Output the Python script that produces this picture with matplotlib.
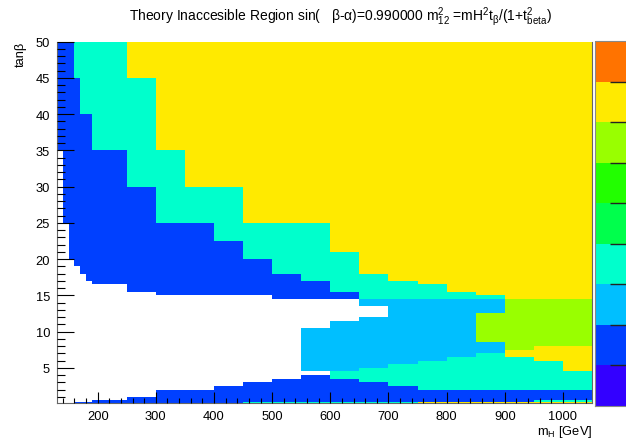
import numpy as np
import matplotlib
matplotlib.use('Agg')
import matplotlib.pyplot as plt
from matplotlib.colors import ListedColormap, BoundaryNorm

plt.rcParams['font.family'] = ['Liberation Sans', 'DejaVu Sans']
plt.rcParams['mathtext.fontset'] = 'custom'
plt.rcParams['mathtext.rm'] = 'Liberation Sans'
plt.rcParams['mathtext.it'] = 'Liberation Sans:italic'
plt.rcParams['mathtext.default'] = 'regular'

# palette levels (bottom -> top of the colour bar)
palette = ['#3300ff', '#0040ff', '#00bfff', '#00ffcc', '#00ff4c',
           '#22ff00', '#99ff00', '#ffea00', '#ff7300']
B, LB, C, YG, Y = 2, 3, 4, 7, 8

# mH bin edges
mh_edges = [130, 140, 150, 160, 170, 180, 190, 250, 300, 350, 400, 450, 500,
            550, 600, 650, 700, 750, 800, 850, 900, 950, 1000, 1050]

# per mH column: (tanb_low, tanb_high, level); anything not listed is empty
column_bands = [
    [(35, 50, B)],
    [(25, 50, B)],
    [(20, 50, B)],
    [(0.1, 0.3, B), (19, 45, B), (45, 50, C)],
    [(0.1, 0.3, B), (18, 40, B), (40, 50, C)],
    [(0.1, 0.3, B), (17, 40, B), (40, 50, C)],
    [(0.1, 0.5, B), (16.5, 35, B), (35, 50, C)],
    [(0.1, 1.0, B), (15.5, 30, B), (30, 45, C), (45, 50, Y)],
    [(0.1, 2.0, B), (15, 25, B), (25, 35, C), (35, 50, Y)],
    [(0.1, 2.0, B), (15, 25, B), (25, 30, C), (30, 50, Y)],
    [(0.1, 2.5, B), (15, 22.5, B), (22.5, 30, C), (30, 50, Y)],
    [(0.1, 0.3, C), (0.3, 3.0, B), (15, 20, B), (20, 25, C), (25, 50, Y)],
    [(0.1, 0.3, C), (0.3, 3.5, B), (14.5, 18, B), (18, 25, C), (25, 50, Y)],
    [(0.1, 0.3, C), (0.3, 4.0, B), (4.5, 10.5, LB), (14.5, 17, B), (17, 25, C), (25, 50, Y)],
    [(0.1, 0.3, C), (0.3, 3.5, B), (3.5, 4.5, C), (4.5, 11.5, LB), (14.5, 15.5, B),
     (15.5, 21, C), (21, 50, Y)],
    [(0.1, 0.3, C), (0.3, 3.0, B), (3.0, 5.0, C), (5.0, 12.0, LB), (13.5, 14.5, LB),
     (14.5, 18, C), (18, 50, Y)],
    [(0.1, 0.3, C), (0.3, 2.5, B), (2.5, 5.5, C), (5.5, 14.5, LB), (14.5, 17, C), (17, 50, Y)],
    [(0.1, 0.3, Y), (0.3, 2.0, B), (2.0, 6.0, C), (6.0, 14.5, LB), (14.5, 16.5, C), (16.5, 50, Y)],
    [(0.1, 0.3, Y), (0.3, 2.0, B), (2.0, 6.5, C), (6.5, 14.5, LB), (14.5, 15.5, C), (15.5, 50, Y)],
    [(0.1, 0.3, Y), (0.3, 2.0, B), (2.0, 7.0, C), (7.0, 8.5, LB), (8.5, 12.5, YG),
     (12.5, 14.5, LB), (14.5, 15, C), (15, 50, Y)],
    [(0.1, 0.3, Y), (0.3, 2.0, B), (2.0, 6.5, C), (6.5, 7.5, Y), (7.5, 14.5, YG), (14.5, 50, Y)],
    [(0.1, 0.3, Y), (0.3, 0.5, C), (0.5, 2.0, B), (2.0, 6.0, C), (6.0, 8.0, Y),
     (8.0, 14.5, YG), (14.5, 50, Y)],
    [(0.1, 0.3, Y), (0.3, 0.5, C), (0.5, 2.0, B), (2.0, 4.5, C), (4.5, 8.0, Y),
     (8.0, 14.5, YG), (14.5, 50, Y)],
]

title = ('Theory Inaccesible Region sin(   \u03b2-\u03b1)=0.990000 m$_{12}^{2}$'
         ' =mH$^{2}$t$_{\u03b2}$/(1+t$_{beta}^{2}$)')

# build the 2D histogram
tb_edges = sorted({0.1, 50} | {v for col in column_bands for s in col for v in s[:2]})
tb_edges = np.array(tb_edges)
tb_mid = 0.5 * (tb_edges[:-1] + tb_edges[1:])
z = np.zeros((len(tb_mid), len(mh_edges) - 1))
for i, col in enumerate(column_bands):
    for lo, hi, lev in col:
        z[(tb_mid > lo) & (tb_mid < hi), i] = lev
z = np.ma.masked_equal(z, 0)

W, H = 626, 439
fig = plt.figure(figsize=(W / 100, H / 100), dpi=100)
ax = fig.add_axes([57 / W, 1 - 404.3 / H, 535 / W, 361.6 / H])

cmap = ListedColormap(palette)
norm = BoundaryNorm(np.arange(0.5, 10.5, 1), cmap.N)
mesh = ax.pcolormesh(mh_edges, tb_edges, z, cmap=cmap, norm=norm,
                     edgecolors='none', antialiased=False)

ax.set_xlim(130, 1050)
ax.set_ylim(0.1, 50)
ax.set_xticks(np.arange(200, 1001, 100))
ax.set_xticks(np.arange(140, 1050, 20), minor=True)
ax.set_yticks(np.arange(5, 51, 5))
ax.set_yticks(np.arange(1, 50, 1), minor=True)
ax.tick_params(axis='x', which='major', direction='in', length=7.9, width=0.8,
               labelsize=9.3, pad=5, top=False)
ax.tick_params(axis='x', which='minor', direction='in', length=3.9, width=0.8, top=False)
ax.tick_params(axis='y', which='major', direction='in', length=12.2, width=0.8,
               labelsize=9.3, pad=5, right=False)
ax.tick_params(axis='y', which='minor', direction='in', length=6.1, width=0.8, right=False)
ax.set_axisbelow(False)
for side in ['left', 'bottom', 'right']:
    ax.spines[side].set_color('#666666')
    ax.spines[side].set_linewidth(0.8)
ax.spines['top'].set_visible(False)

fig.text(340 / W, 1 - 17 / H, title, ha='center', va='center', fontsize=10)
fig.text(21 / W, 1 - 42 / H, 'tan\u03b2', rotation=90, ha='center', va='top', fontsize=9.3)
fig.text(592 / W, 1 - 432 / H, 'm$_{H}$ [GeV]', ha='right', va='center', fontsize=9.3)

# colour bar (runs off the right edge as in the reference)
cax = fig.add_axes([595 / W, 1 - 407 / H, 40 / W, 365 / H])
cb = fig.colorbar(mesh, cax=cax, ticks=np.arange(1.5, 9, 1))
cb.outline.set_edgecolor('#888888')
cb.outline.set_linewidth(0.8)
cax.tick_params(axis='y', direction='in', length=18, width=1, color='#222222',
                labelright=False, right=True)

fig.savefig('out.png', dpi=100)
